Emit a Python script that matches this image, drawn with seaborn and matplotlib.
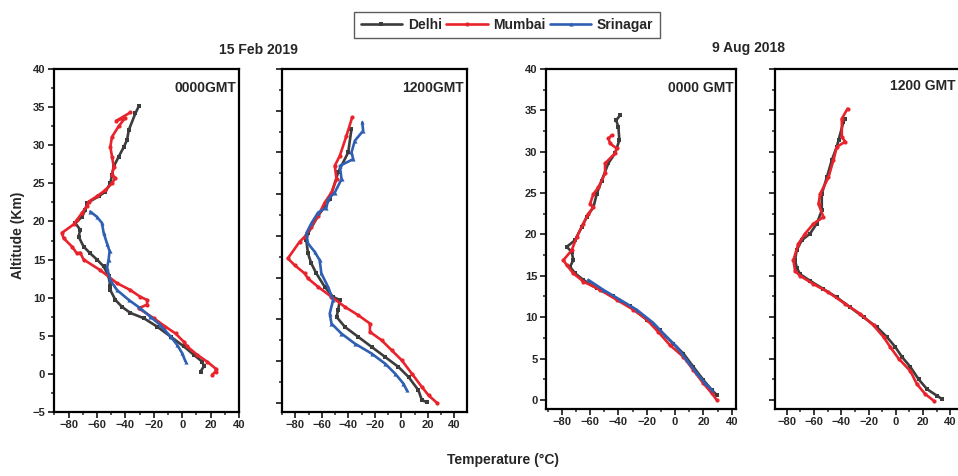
import numpy as np
import pandas as pd
import seaborn as sns
import matplotlib
matplotlib.use("Agg")
import matplotlib.pyplot as plt
from matplotlib.ticker import MultipleLocator

# ---------------- data ----------------
cities = ["Delhi", "Mumbai", "Srinagar"]
city_colors = {"Delhi": "#3c3c3c", "Mumbai": "#e8232b", "Srinagar": "#2f5fb3"}
city_markers = {"Delhi": "s", "Mumbai": "o", "Srinagar": "^"}

# Panel 1 : 15 Feb 2019, 0000 GMT
p1_delhi_t = [-30.6, -32.9, -37.6, -38.8, -41.0, -44.7, -48.2, -49.4, -50.6, -54.1, -58.8, -67.0, -68.2,
              -70.6, -75.3, -71.8, -72.9, -69.4, -64.7, -60.0, -55.3, -51.8, -50.6, -50.6, -47.0, -42.4,
              -36.5, -27.0, -17.6, -8.2, 1.2, 8.2, 14.1, 15.3, 12.9]
p1_delhi_z = [35.1, 34.2, 32.0, 30.7, 29.8, 28.5, 27.2, 26.1, 25.0, 23.9, 23.3, 22.4, 21.5,
              20.6, 19.8, 18.9, 18.0, 16.7, 15.8, 15.0, 14.1, 12.8, 11.5, 11.0, 9.7, 8.8,
              8.0, 7.3, 6.2, 4.9, 3.6, 2.5, 1.6, 1.0, 0.3]
p1_mumbai_t = [-36.5, -46.4, -40.0, -44.7, -49.4, -50.6, -49.4, -48.2, -49.4, -47.1, -49.4, -54.1, -60.0,
               -65.9, -67.1, -70.6, -74.1, -76.5, -84.7, -83.5, -77.6, -74.1, -71.8, -69.4, -57.6, -45.9,
               -36.5, -29.4, -24.7, -24.7, -30.6, -20.0, -11.8, -4.7, 1.2, 3.5, 10.6, 17.6, 23.5, 23.5, 21.2]
p1_mumbai_z = [34.3, 33.2, 33.6, 32.5, 31.1, 29.8, 28.5, 27.2, 26.1, 25.7, 25.0, 24.1, 23.3,
               22.6, 22.0, 21.1, 20.2, 19.6, 18.5, 17.8, 16.7, 15.8, 15.9, 15.0, 13.6, 11.9,
               11.0, 10.1, 9.7, 9.1, 8.6, 7.3, 6.2, 5.3, 4.2, 3.6, 2.5, 1.6, 0.7, 0.3, -0.1]
p1_srinagar_t = [-64.7, -60.0, -56.5, -55.3, -52.9, -51.1, -51.8, -52.9, -50.6, -45.9, -37.6, -29.4,
                 -22.4, -15.3, -8.2, -3.5, 0.0, 2.4]
p1_srinagar_z = [21.3, 20.6, 19.8, 18.5, 17.1, 16.1, 15.0, 13.9, 12.3, 11.0, 9.7, 8.6,
                 7.5, 6.4, 4.9, 3.8, 2.7, 1.6]

# Panel 2 : 15 Feb 2019, 1200 GMT
p2_delhi_t = [-37.6, -40.1, -47.7, -54.0, -62.8, -70.4, -71.7, -70.4, -67.9, -64.1, -57.8, -51.5, -46.4,
              -47.7, -48.9, -42.6, -32.5, -22.4, -12.3, -2.2, 5.4, 12.9, 15.5, 19.2]
p2_delhi_z = [32.8, 30.0, 27.6, 24.4, 22.4, 20.3, 19.5, 17.9, 16.7, 15.5, 13.9, 12.7, 12.3,
              11.1, 10.3, 9.1, 7.9, 6.7, 5.5, 4.3, 3.1, 1.5, 0.3, 0.1]
p2_mumbai_t = [-37.1, -41.4, -46.4, -50.2, -48.9, -52.7, -57.8, -62.8, -67.9, -72.9, -76.7, -85.6, -80.5,
               -72.9, -70.4, -62.8, -52.7, -42.6, -32.5, -23.7, -23.7, -14.9, -7.3, 0.3, 7.9, 15.5, 20.5, 26.8]
p2_mumbai_z = [34.2, 32.0, 29.6, 28.4, 26.8, 25.2, 24.0, 22.4, 21.1, 19.9, 19.3, 17.3, 16.5,
               15.5, 14.9, 13.9, 12.7, 11.5, 10.5, 9.5, 8.5, 7.5, 6.3, 5.1, 3.5, 1.9, 0.9, 0.0]
p2_srinagar_t = [-29.5, -28.8, -35.1, -37.6, -36.3, -46.4, -45.1, -50.2, -55.2, -56.5, -62.8, -67.9, -71.7,
                 -70.4, -65.4, -61.6, -60.3, -55.3, -51.5, -54.0, -52.7, -45.2, -35.1, -22.4, -12.3, -4.7, 1.6, 4.1]
p2_srinagar_z = [33.6, 32.6, 31.4, 30.0, 29.2, 28.4, 26.8, 25.2, 24.4, 23.4, 22.8, 21.5, 20.3,
                 19.1, 18.1, 17.1, 15.5, 13.9, 12.3, 10.7, 9.5, 8.3, 7.1, 5.9, 4.7, 3.5, 2.3, 1.5]

# Panel 3 : 9 Aug 2018, 0000 GMT
p3_delhi_t = [-38.8, -41.6, -40.0, -39.3, -42.4, -47.1, -51.8, -55.3, -57.6, -62.4, -65.9, -70.6, -76.5,
              -72.9, -71.8, -74.1, -70.6, -64.7, -55.3, -43.5, -31.8, -20.0, -10.6, -1.2, 5.9, 12.9, 20.0, 25.9, 29.4]
p3_delhi_z = [34.4, 33.8, 33.0, 31.4, 29.8, 28.6, 26.5, 24.9, 23.3, 22.1, 20.9, 19.3, 18.5,
              17.9, 16.9, 16.1, 15.3, 14.5, 13.5, 12.5, 11.3, 9.7, 8.4, 6.8, 5.6, 4.0, 2.4, 1.2, 0.6]
p3_mumbai_t = [-44.7, -47.0, -45.9, -41.2, -42.4, -49.4, -49.4, -54.1, -57.6, -60.0, -57.6, -61.2, -64.7,
               -69.4, -72.9, -78.8, -76.5, -71.8, -64.7, -52.9, -41.2, -29.4, -20.0, -11.8, -3.5, 5.9, 12.9, 20.0, 25.9, 29.4]
p3_mumbai_z = [32.0, 31.6, 31.0, 30.4, 29.8, 28.6, 27.4, 25.7, 24.9, 23.7, 23.3, 22.5, 21.3,
               19.7, 18.1, 16.9, 16.3, 15.3, 14.3, 13.3, 12.1, 10.9, 9.7, 8.2, 6.6, 5.2, 3.6, 2.0, 0.8, 0.0]
p3_srinagar_t = [-61.2, -50.6, -38.8, -27.1, -15.3, -7.1, 1.2, 8.2, 15.3, 21.2, 25.9]
p3_srinagar_z = [14.5, 13.3, 12.1, 10.9, 9.3, 7.8, 6.4, 4.8, 3.2, 2.0, 1.2]

# Panel 4 : 9 Aug 2018, 1200 GMT
p4_delhi_t = [-37.1, -38.4, -42.0, -43.3, -46.9, -50.6, -54.3, -54.3, -58.0, -62.9, -69.0, -72.7, -73.9,
              -72.7, -70.2, -62.9, -53.1, -43.3, -33.5, -23.7, -13.9, -6.5, -0.4, 4.5, 10.6, 16.7, 22.9, 30.2, 33.9]
p4_delhi_z = [34.0, 33.6, 31.4, 30.6, 29.0, 26.9, 24.9, 22.9, 21.3, 20.1, 19.3, 18.1, 16.9,
              16.0, 15.2, 14.4, 13.4, 12.4, 11.2, 10.0, 8.8, 7.6, 6.4, 5.2, 4.0, 2.5, 1.3, 0.5, 0.1]
p4_mumbai_t = [-35.4, -39.6, -39.6, -37.1, -43.3, -45.7, -49.4, -55.5, -56.7, -53.1, -60.4, -66.5, -71.4,
               -75.1, -73.9, -70.2, -60.4, -49.4, -37.1, -26.1, -16.3, -9.0, -4.1, 2.0, 10.6, 15.5, 21.6, 27.8]
p4_mumbai_z = [35.2, 34.0, 31.8, 31.2, 30.6, 29.0, 26.9, 24.9, 23.7, 22.1, 21.3, 20.1, 18.9,
               16.9, 15.6, 15.0, 14.0, 13.0, 11.6, 10.4, 9.0, 7.6, 6.4, 5.0, 3.5, 1.9, 0.7, -0.1]

panel_titles = ["0000GMT", "1200GMT", "0000 GMT", "1200 GMT"]
date_titles = ["15 Feb 2019", "9 Aug 2018"]
xticks = [-80, -60, -40, -20, 0, 20, 40]

panels = [
    {"Delhi": (p1_delhi_t, p1_delhi_z), "Mumbai": (p1_mumbai_t, p1_mumbai_z), "Srinagar": (p1_srinagar_t, p1_srinagar_z)},
    {"Delhi": (p2_delhi_t, p2_delhi_z), "Mumbai": (p2_mumbai_t, p2_mumbai_z), "Srinagar": (p2_srinagar_t, p2_srinagar_z)},
    {"Delhi": (p3_delhi_t, p3_delhi_z), "Mumbai": (p3_mumbai_t, p3_mumbai_z), "Srinagar": (p3_srinagar_t, p3_srinagar_z)},
    {"Delhi": (p4_delhi_t, p4_delhi_z), "Mumbai": (p4_mumbai_t, p4_mumbai_z)},
]

# ---------------- style ----------------
sns.set_style("ticks")
plt.rcParams["font.family"] = ["Liberation Sans", "DejaVu Sans"]
plt.rcParams["font.weight"] = "bold"

fig = plt.figure(figsize=(9.58, 4.76), dpi=100)
W, H = 958.0, 476.0
# pixel boxes (left, right, top, bottom)
boxes = [(53.5, 239, 69, 412), (282, 467, 69, 412), (545.7, 736, 69, 409), (775, 964, 69, 409)]
xlims = [(-90.6, 40), (-90, 49.5), (-91.3, 43), (-88.6, 50)]
ylims = [(-5, 40), (-1.1, 40), (-1.1, 40), (-1.1, 40)]

axes = []
for i, (box, pdata) in enumerate(zip(boxes, panels)):
    l, r, t, b = box
    ax = fig.add_axes([l / W, 1 - b / H, (r - l) / W, (b - t) / H])
    axes.append(ax)
    for city in cities:
        if city not in pdata:
            continue
        tx, zz = pdata[city]
        df = pd.DataFrame({"T": tx, "Z": zz})
        sns.lineplot(data=df, x="T", y="Z", sort=False, estimator=None, ax=ax,
                     color=city_colors[city], marker=city_markers[city], markersize=3,
                     markeredgewidth=0, linewidth=1.9, label=city)
    if ax.get_legend() is not None:
        ax.get_legend().remove()
    ax.set_xlim(*xlims[i])
    ax.set_ylim(*ylims[i])
    ax.set_xlabel("")
    ax.set_ylabel("")
    ax.set_xticks(xticks)
    ax.xaxis.set_minor_locator(MultipleLocator(10))
    ax.yaxis.set_major_locator(MultipleLocator(5))
    ax.yaxis.set_minor_locator(MultipleLocator(2.5))
    ax.tick_params(axis="both", which="major", direction="out", length=4, width=1.3,
                   labelsize=8, pad=2, top=False, right=False)
    ax.tick_params(axis="both", which="minor", direction="out", length=2.5, width=1.1,
                   top=False, right=False)
    for lab in ax.get_xticklabels() + ax.get_yticklabels():
        lab.set_fontweight("bold")
    if i in (1, 3):
        ax.set_yticklabels([])
    for sp in ax.spines.values():
        sp.set_visible(True)
        sp.set_linewidth(1.6)
        sp.set_color("black")
    if i < 3:
        ax.text(0.985, 0.965, panel_titles[i], transform=ax.transAxes, ha="right", va="top",
                fontsize=10, fontweight="bold")
    else:
        # last panel runs past the figure edge; keep its label inside the picture
        fig.text(956 / W, 1 - 79 / H, panel_titles[i], ha="right", va="top",
                 fontsize=10, fontweight="bold")

# legend
h, lab = axes[0].get_legend_handles_labels()
leg = fig.legend(h, lab, loc="upper center", bbox_to_anchor=(507 / W, 1 - 5 / H), ncol=3,
                 frameon=True, fancybox=False, edgecolor="#333333",
                 handlelength=3.0, handletextpad=0.4, columnspacing=0.3, borderpad=0.45,
                 prop={"weight": "bold", "size": 10})
leg.get_frame().set_linewidth(1.0)

fig.text(258 / W, 1 - 50 / H, date_titles[0], ha="center", va="center", fontsize=10, fontweight="bold")
fig.text(749 / W, 1 - 48 / H, date_titles[1], ha="center", va="center", fontsize=10, fontweight="bold")
fig.text(18 / W, 1 - 235 / H, "Altitude (Km)", ha="center", va="center", rotation=90,
         fontsize=10, fontweight="bold")
fig.text(503 / W, 1 - 460 / H, "Temperature (°C)", ha="center", va="center", fontsize=10, fontweight="bold")

fig.savefig("out.png", dpi=100, facecolor="white")
